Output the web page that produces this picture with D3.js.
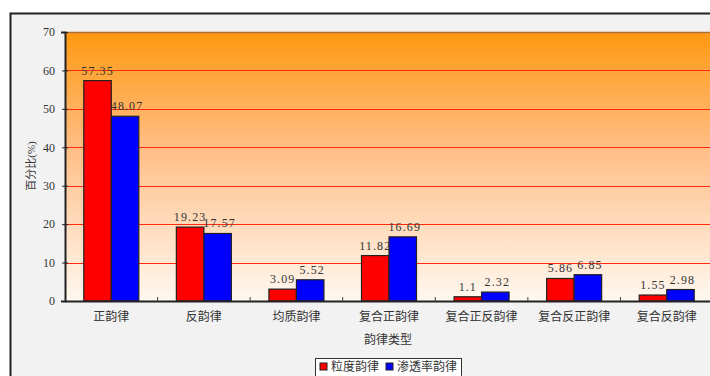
<!DOCTYPE html>
<html>
<head>
<meta charset="utf-8">
<script src="https://cdn.jsdelivr.net/npm/d3@7"></script>
<style>
  html, body { margin: 0; padding: 0; background: #fff; overflow: hidden; }
  svg { display: block; }
  text { font-family: "Liberation Serif", "Noto Sans CJK SC", serif; fill: #333; }
</style>
</head>
<body>
<script>
// Rhythm types and the share (%) of each type by grain size and by permeability
const categories = ["正韵律", "反韵律", "均质韵律", "复合正韵律", "复合正反韵律", "复合反正韵律", "复合反韵律"];
const seriesNames = ["粒度韵律", "渗透率韵律"];
const grainValues = [57.35, 19.23, 3.09, 11.82, 1.1, 5.86, 1.55];
const permValues = [48.07, 17.57, 5.52, 16.69, 2.32, 6.85, 2.98];
const yTicks = [0, 10, 20, 30, 40, 50, 60, 70];
const colors = ["#ff0000", "#0000ff"];

const W = 710, H = 376;
const plot = { left: 65, top: 32, right: 713, bottom: 301 };

const svg = d3.select("body").append("svg").attr("width", W).attr("height", H);

// chart frame
svg.append("rect").attr("x", 10.5).attr("y", 13.5).attr("width", W + 20).attr("height", H + 20)
  .attr("fill", "#f2f2f2").attr("stroke", "#222").attr("stroke-width", 2);

const defs = svg.append("defs");
const grad = defs.append("linearGradient").attr("id", "bg").attr("x1", 0).attr("y1", 0).attr("x2", 0).attr("y2", 1);
grad.append("stop").attr("offset", "0%").attr("stop-color", "#ff9810");
grad.append("stop").attr("offset", "45%").attr("stop-color", "#ffc08a");
grad.append("stop").attr("offset", "100%").attr("stop-color", "#fff8f0");

const x = d3.scaleBand().domain(categories).range([plot.left, plot.right]);
const y = d3.scaleLinear().domain([0, 70]).range([plot.bottom, plot.top]);
const sub = d3.scaleBand().domain(seriesNames).range([0, 55]);
const groupOffset = (x.bandwidth() - 55) / 2;

svg.append("rect").attr("x", plot.left).attr("y", plot.top)
  .attr("width", plot.right - plot.left).attr("height", plot.bottom - plot.top)
  .attr("fill", "url(#bg)");

// grid lines
svg.append("g").selectAll("line").data(yTicks.filter(d => d > 0 && d < 70)).join("line")
  .attr("x1", plot.left).attr("x2", plot.right)
  .attr("y1", d => Math.round(y(d)) + 0.5).attr("y2", d => Math.round(y(d)) + 0.5)
  .attr("stroke", "#ff2a10").attr("stroke-width", 1);

// top border of plot
svg.append("line").attr("x1", plot.left).attr("x2", plot.right)
  .attr("y1", plot.top + 0.5).attr("y2", plot.top + 0.5)
  .attr("stroke", "#b0703a").attr("stroke-width", 1.5);

// bars
const series = [grainValues, permValues];
series.forEach((vals, si) => {
  svg.append("g").selectAll("rect").data(vals).join("rect")
    .attr("x", (d, i) => x(categories[i]) + groupOffset + sub(seriesNames[si]))
    .attr("y", d => y(d))
    .attr("width", sub.bandwidth())
    .attr("height", d => y(0) - y(d))
    .attr("fill", colors[si])
    .attr("stroke", "#222").attr("stroke-width", 1.2);
});

// value labels
series.forEach((vals, si) => {
  svg.append("g").selectAll("text").data(vals).join("text")
    .attr("x", (d, i) => x(categories[i]) + groupOffset + sub(seriesNames[si]) + sub.bandwidth() / 2 + si * 2)
    .attr("y", d => y(d) - 6)
    .attr("text-anchor", "middle")
    .attr("font-size", 12)
    .attr("letter-spacing", 1.1)
    .text(d => String(d));
});

// y axis
const yAxis = d3.axisLeft(y).tickValues(yTicks).tickSize(4).tickPadding(6);
const gy = svg.append("g").attr("transform", `translate(${plot.left},0)`).call(yAxis);
gy.select(".domain").attr("stroke", "#222").attr("stroke-width", 2);
gy.selectAll(".tick line").attr("stroke", "#222").attr("x2", 3).attr("x1", -3);
gy.selectAll(".tick text").attr("font-size", 12).attr("fill", "#333")
  .attr("font-family", "Liberation Serif, serif");

// x axis
const xAxis = d3.axisBottom(x).tickSize(0).tickPadding(11);
const gx = svg.append("g").attr("transform", `translate(0,${plot.bottom})`).call(xAxis);
gx.select(".domain").attr("stroke", "#222").attr("stroke-width", 2);
gx.selectAll(".tick text").attr("font-size", 12).attr("fill", "#333")
  .attr("font-family", "Noto Sans CJK SC, sans-serif");
// category boundary ticks
svg.append("g").selectAll("line").data(categories.slice(1)).join("line")
  .attr("x1", d => x(d)).attr("x2", d => x(d))
  .attr("y1", plot.bottom).attr("y2", plot.bottom - 4)
  .attr("stroke", "#444").attr("stroke-width", 1);

// axis titles
svg.append("text").attr("x", 388).attr("y", 344).attr("text-anchor", "middle")
  .attr("font-size", 12).attr("font-family", "Noto Sans CJK SC, sans-serif").text("韵律类型");
svg.append("text").attr("transform", "translate(35,166) rotate(-90)").attr("text-anchor", "middle")
  .attr("font-size", 11).attr("font-family", "Noto Sans CJK SC, sans-serif").text("百分比(%)");

// legend
const lg = svg.append("g").attr("transform", "translate(315,358)");
lg.append("rect").attr("x", 0.5).attr("y", 0.5).attr("width", 146).attr("height", 24)
  .attr("fill", "#fff").attr("stroke", "#333").attr("stroke-width", 1);
const items = [{ name: seriesNames[0], x: 5 }, { name: seriesNames[1], x: 71 }];
items.forEach((it, i) => {
  lg.append("rect").attr("x", it.x).attr("y", 5).attr("width", 7).attr("height", 7)
    .attr("fill", colors[i]).attr("stroke", "#222").attr("stroke-width", 1);
  lg.append("text").attr("x", it.x + 11).attr("y", 13).attr("font-size", 12)
    .attr("font-family", "Noto Sans CJK SC, sans-serif").text(it.name);
});
</script>
</body>
</html>
